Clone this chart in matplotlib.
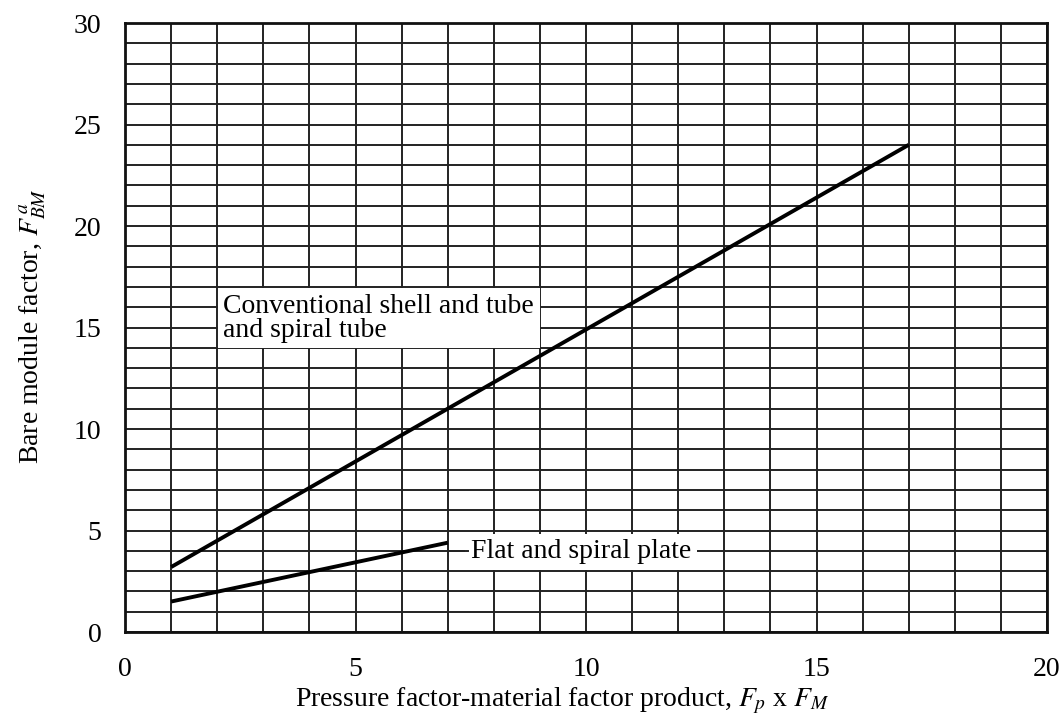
import matplotlib
matplotlib.use('Agg')
import matplotlib.pyplot as plt

plt.rcParams['font.family'] = ['Liberation Serif', 'DejaVu Serif']
plt.rcParams['mathtext.fontset'] = 'stix'

# curves
shell_x = [1, 5, 10, 17]
shell_y = [3.2, 8.4, 14.9, 24.0]
plate_x = [1, 4, 7]
plate_y = [1.5, 2.95, 4.4]

x_ticks = [0, 5, 10, 15, 20]
y_ticks = [0, 5, 10, 15, 20, 25, 30]

fig = plt.figure(figsize=(10.63, 7.19), dpi=100, facecolor='white')
ax = fig.add_axes([0.1176, 0.121, 0.8674, 0.847])

ax.set_xlim(0, 20)
ax.set_ylim(0, 30)
ax.set_xticks(x_ticks)
ax.set_yticks(y_ticks)
ax.set_xticks(range(0, 21), minor=True)
ax.set_yticks(range(0, 31), minor=True)
ax.grid(which='both', color='#222222', linewidth=1.4)
ax.set_axisbelow(True)
ax.tick_params(which='both', length=0)
ax.tick_params(axis='x', labelsize=20, pad=18)
ax.tick_params(axis='y', labelsize=20, pad=17)
for spine in ax.spines.values():
    spine.set_linewidth(2)
    spine.set_color('#111111')

ax.plot(shell_x, shell_y, color='black', linewidth=2.8, solid_capstyle='butt', zorder=3)
ax.plot(plate_x, plate_y, color='black', linewidth=2.8, solid_capstyle='butt', zorder=3)

box = dict(facecolor='white', edgecolor='none', pad=4)
ax.text(2.13, 15.45, "Conventional shell and tube\nand spiral tube", fontsize=20,
        ha='left', va='center', linespacing=0.95, bbox=box, zorder=4)
ax.text(7.5, 3.95, "Flat and spiral plate", fontsize=20,
        ha='left', va='center', bbox=box, zorder=4)
ax.plot([7.05, 7.45], [4.0, 4.0], color='#222222', linewidth=1.4, zorder=5)

fig.text(33 / 1063, 1 - 326 / 719, r"Bare module factor, $F^{\,a}_{BM}$",
         rotation=90, fontsize=20, ha='center', va='center')
fig.text(562 / 1063, 1 - 701 / 719, r"Pressure factor-material factor product, $F_p$ x $F_M$",
         fontsize=20, ha='center', va='center')

fig.savefig('out.png', dpi=100, facecolor='white')
